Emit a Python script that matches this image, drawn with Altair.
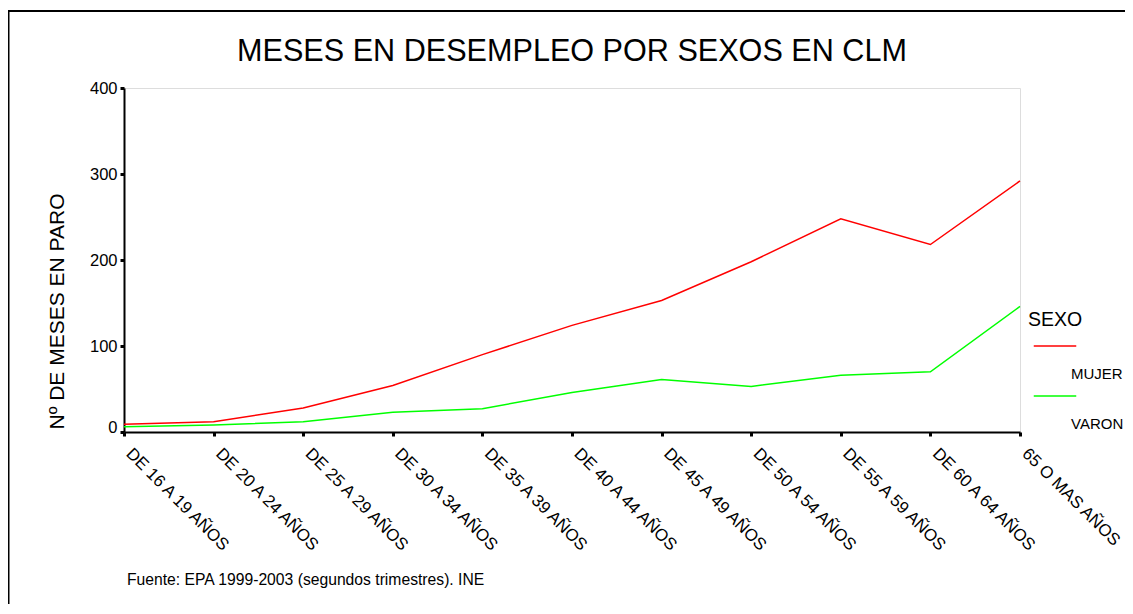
import altair as alt
import pandas as pd

# ---- data ----
grupos = ["DE 16 A 19 AÑOS", "DE 20 A 24 AÑOS", "DE 25 A 29 AÑOS", "DE 30 A 34 AÑOS",
          "DE 35 A 39 AÑOS", "DE 40 A 44 AÑOS", "DE 45 A 49 AÑOS", "DE 50 A 54 AÑOS",
          "DE 55 A 59 AÑOS", "DE 60 A 64 AÑOS", "65 O MAS AÑOS"]
mujer = [9, 12, 28, 54, 90, 124, 153, 198, 248, 218, 292]
varon = [6, 8, 12, 23, 27, 46, 61, 53, 66, 70, 146]
sexos = ["MUJER", "VARON"]
colores = ["#FF0000", "#00FF00"]
y_ticks = [0, 100, 200, 300, 400]
titulo = "MESES EN DESEMPLEO POR SEXOS EN CLM"
titulo_y = "Nº DE MESES EN PARO"
nota = ["Fuente: EPA 1999-2003 (segundos trimestres). INE"]

rows = []
for g, m, v in zip(grupos, mujer, varon):
    rows.append({"GRUPO": g, "SEXO": "MUJER", "MESES": m})
    rows.append({"GRUPO": g, "SEXO": "VARON", "MESES": v})
df = pd.DataFrame(rows)

FONT = "Liberation Sans"
W, H = 896, 344

lines = alt.Chart(df).mark_line(strokeWidth=1.5).encode(
    x=alt.X("GRUPO:N", sort=grupos,
            scale=alt.Scale(type="point", padding=0),
            axis=alt.Axis(title=None, labelAngle=45, labelAlign="left", labelBaseline="top",
                          labelFontSize=17, labelPadding=9, labelOffset=10,
                          labelColor="black", labelFont=FONT,
                          tickSize=4, tickWidth=3, tickColor="black",
                          domainColor="black", domainWidth=2, labelOverlap=False)),
    y=alt.Y("MESES:Q", scale=alt.Scale(domain=[0, 400], nice=False, zero=True),
            axis=alt.Axis(values=y_ticks, title=titulo_y, grid=False,
                          labelFontSize=16.5, labelColor="black", labelFont=FONT, labelPadding=3,
                          labelBaseline={"condition": {"test": "datum.value === 0",
                                                       "value": "alphabetic"},
                                         "value": "middle"},
                          tickSize=4, tickWidth=3, tickColor="black",
                          domainColor="black", domainWidth=2,
                          titleFontSize=21, titleFontWeight="normal", titleFont=FONT,
                          titleColor="black", titleX=-67, titleY=223,
                          titleAlign="center", titleBaseline="middle", titleAngle=270)),
    color=alt.Color("SEXO:N", scale=alt.Scale(domain=sexos, range=colores),
                    legend=alt.Legend(title="SEXO", orient="none", legendX=904, legendY=223,
                                      titleFontSize=19.5, titleFontWeight="normal", titleFont=FONT,
                                      titleColor="black", titlePadding=2,
                                      symbolType="M-1.7,0L1.7,0", symbolSize=625,
                                      symbolStrokeWidth=1.5, symbolOffset=13.5,
                                      labelFontSize=15, labelFont=FONT, labelColor="black",
                                      labelExpr="['', datum.label]", labelBaseline="top",
                                      labelOffset=2.5, rowPadding=0,
                                      padding=0))
)

frame = alt.Chart(pd.DataFrame({"k": [0]})).mark_rect(
    filled=False, stroke="black", strokeWidth=2, clip=False
).encode(x=alt.value(-115.5), y=alt.value(-77), x2=alt.value(3000), y2=alt.value(3000))

footer = alt.Chart(pd.DataFrame({"t": nota})).mark_text(
    align="left", baseline="middle", fontSize=15.7, font=FONT, color="black"
).encode(text="t:N", x=alt.value(3), y=alt.value(492))

chart = alt.layer(frame, lines, footer).properties(
    width=W, height=H,
    title=alt.TitleParams(titulo, fontSize=30.6, fontWeight="normal", font=FONT, color="black",
                          anchor="middle", frame="group", offset=-58),
    autosize=alt.AutoSizeParams(type="none"),
    padding={"left": 116, "top": 80, "right": 105, "bottom": 172},
).configure_view(stroke="black", strokeWidth=2).configure(
    font=FONT, style={"guide-label": {"lineHeight": 21}})

chart.save("out.html", embed_options={"renderer": "svg", "actions": False})
